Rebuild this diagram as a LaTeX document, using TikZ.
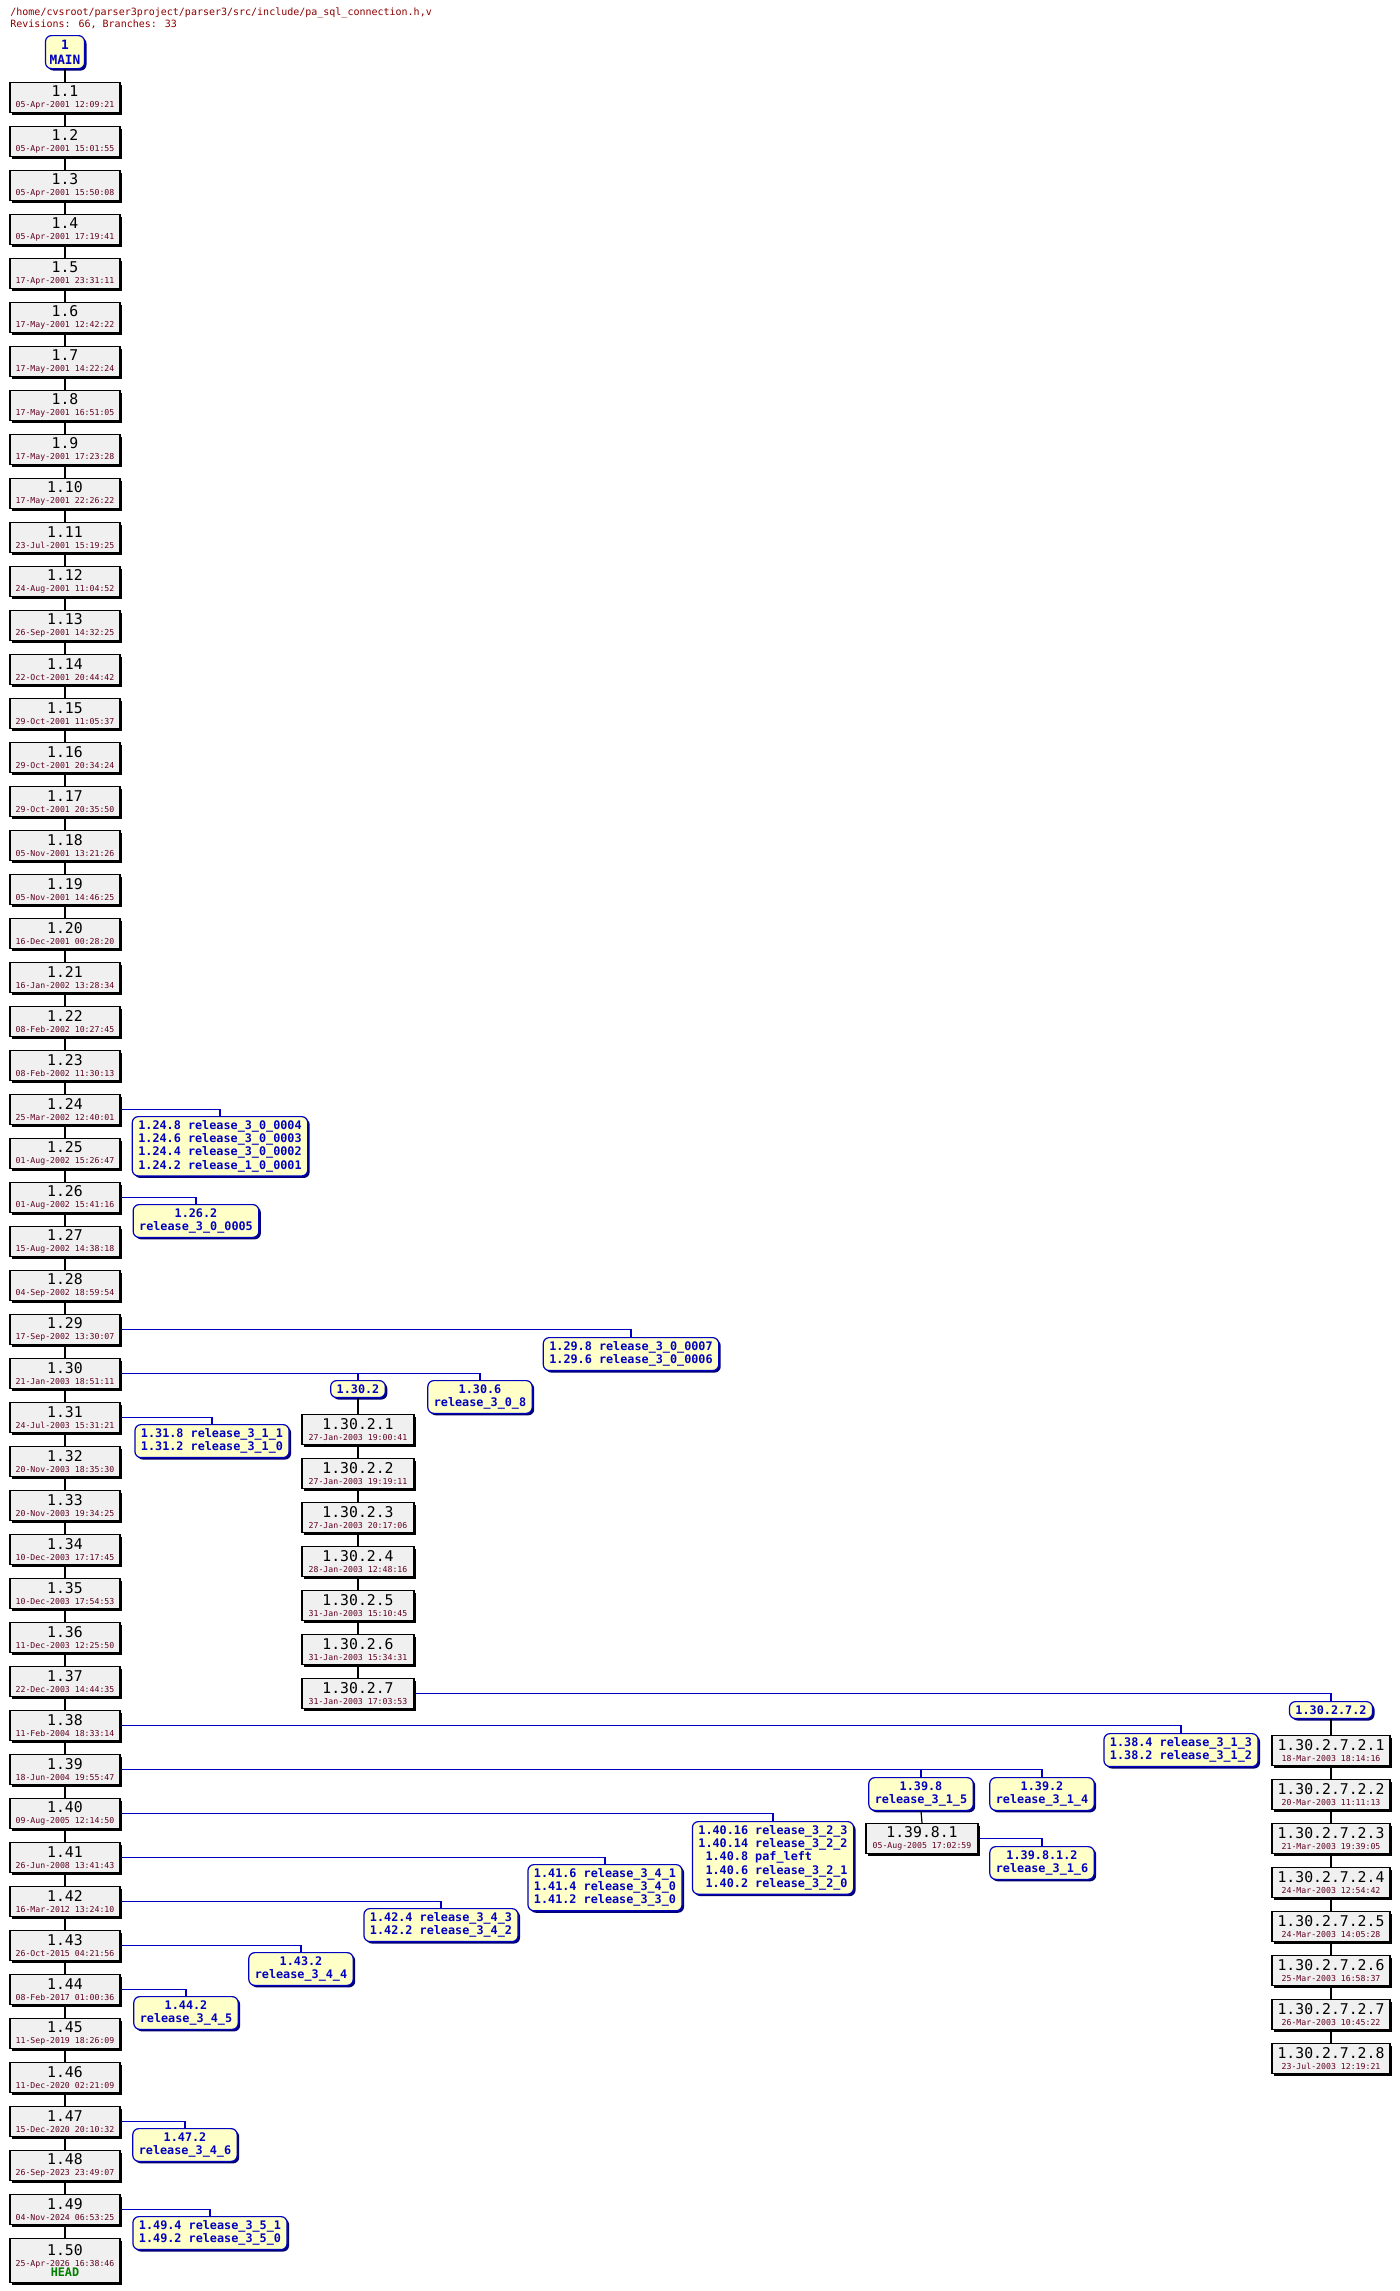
\documentclass[tikz,border=0pt]{standalone}
\usepackage{fontspec}
\usetikzlibrary{shadows}
\newfontfamily\monof{DejaVu Sans Mono}
\definecolor{hdr}{HTML}{8B0000}
\definecolor{dt}{HTML}{600020}
\definecolor{tagfill}{HTML}{FFFFC8}
\definecolor{tagtxt}{HTML}{0000C0}
\definecolor{boxfill}{HTML}{F0F0F0}
\definecolor{headg}{HTML}{008000}
\tikzset{
  revbox/.style={draw=black, line width=0.6pt, fill=boxfill, anchor=north, inner sep=0pt,
    minimum width=#1*0.5pt, minimum height=15pt, align=center, font=\monof\fontsize{4.1}{5.3}\selectfont,
    drop shadow={shadow xshift=1pt, shadow yshift=-1pt, opacity=1, fill=black}},
  revbox/.default=110,
  tagbox/.style={draw=tagtxt, line width=0.6pt, fill=tagfill, rounded corners=3pt, anchor=north,
    inner xsep=3pt, inner ysep=2pt, font=\monof\bfseries\fontsize{5.9}{6.6}\selectfont, text=tagtxt,
    drop shadow={shadow xshift=1pt, shadow yshift=-1pt, opacity=1, fill=tagtxt!60!black}},
  trunk/.style={draw=black, line width=0.6pt},
  br/.style={draw=tagtxt, line width=0.6pt}
}
\newcommand{\revtxt}[2]{{\fontsize{7.4}{5.3}\selectfont #1}\\{\color{dt}#2}}
\begin{document}
\begin{tikzpicture}[x=0.5pt,y=-0.5pt]
\useasboundingbox (0,0) rectangle (1399,2291);
\fill[white] (0,0) rectangle (1399,2291);
\node[anchor=north west, inner sep=0pt, font=\monof\fontsize{5}{6.3}\selectfont, text=hdr, align=left] (hdr) at (10,7) {/home/cvsroot/parser3project/parser3/src/include/pa\_sql\_connection.h,v\\Revisions: 66, Branches: 33};
\node[tagbox, minimum width=19.5pt, minimum height=16.5pt, align=center, inner sep=1pt, font=\monof\bfseries\fontsize{6.4}{7.4}\selectfont] (t1) at (65,35) {1\\MAIN};
\foreach \n/\d in {1/05-Apr-2001 12:09:21,2/05-Apr-2001 15:01:55,3/05-Apr-2001 15:50:08,4/05-Apr-2001 17:19:41,5/17-Apr-2001 23:31:11,6/17-May-2001 12:42:22,7/17-May-2001 14:22:24,8/17-May-2001 16:51:05,9/17-May-2001 17:23:28,10/17-May-2001 22:26:22,11/23-Jul-2001 15:19:25,12/24-Aug-2001 11:04:52,13/26-Sep-2001 14:32:25,14/22-Oct-2001 20:44:42,15/29-Oct-2001 11:05:37,16/29-Oct-2001 20:34:24,17/29-Oct-2001 20:35:50,18/05-Nov-2001 13:21:26,19/05-Nov-2001 14:46:25,20/16-Dec-2001 00:28:20,21/16-Jan-2002 13:28:34,22/08-Feb-2002 10:27:45,23/08-Feb-2002 11:30:13,24/25-Mar-2002 12:40:01,25/01-Aug-2002 15:26:47,26/01-Aug-2002 15:41:16,27/15-Aug-2002 14:38:18,28/04-Sep-2002 18:59:54,29/17-Sep-2002 13:30:07,30/21-Jan-2003 18:51:11,31/24-Jul-2003 15:31:21,32/20-Nov-2003 18:35:30,33/20-Nov-2003 19:34:25,34/10-Dec-2003 17:17:45,35/10-Dec-2003 17:54:53,36/11-Dec-2003 12:25:50,37/22-Dec-2003 14:44:35,38/11-Feb-2004 18:33:14,39/18-Jun-2004 19:55:47,40/09-Aug-2005 12:14:50,41/26-Jun-2008 13:41:43,42/16-Mar-2012 13:24:10,43/26-Oct-2015 04:21:56,44/08-Feb-2017 01:00:36,45/11-Sep-2019 18:26:09,46/11-Dec-2020 02:21:09,47/15-Dec-2020 20:10:32,48/26-Sep-2023 23:49:07,49/04-Nov-2024 06:53:25}{
  \node[revbox] (r\n) at (65,{82+(\n-1)*44}) {\revtxt{1.\n}{\d}};
}
\node[revbox, minimum height=22pt] (r50) at (65,2238) {\revtxt{1.50}{25-Apr-2026 16:38:46}\\{\fontsize{5.9}{5.3}\selectfont\bfseries\color{headg}HEAD}};
\draw[trunk] (t1.south) -- (r1.north);
\foreach \n in {2,...,50}{
  \pgfmathtruncatemacro{\p}{\n-1}
  \draw[trunk] (r\p.south) -- (r\n.north);
}
% branch 1.30.2
\foreach \n/\d in {1/27-Jan-2003 19:00:41,2/27-Jan-2003 19:19:11,3/27-Jan-2003 20:17:06,4/28-Jan-2003 12:48:16,5/31-Jan-2003 15:10:45,6/31-Jan-2003 15:34:31,7/31-Jan-2003 17:03:53}{
  \node[revbox=112] (b\n) at (358,{1414+(\n-1)*44}) {\revtxt{1.30.2.\n}{\d}};
}
\foreach \n/\d in {1/18-Mar-2003 18:14:16,2/20-Mar-2003 11:11:13,3/21-Mar-2003 19:39:05,4/24-Mar-2003 12:54:42,5/24-Mar-2003 14:05:28,6/25-Mar-2003 16:58:37,7/26-Mar-2003 10:45:22,8/23-Jul-2003 12:19:21}{
  \node[revbox=118] (c\n) at (1331,{1735+(\n-1)*44}) {\revtxt{1.30.2.7.2.\n}{\d}};
}
\foreach \n in {2,...,7}{\pgfmathtruncatemacro{\p}{\n-1}\draw[trunk] (b\p.south) -- (b\n.north);}
\foreach \n in {2,...,8}{\pgfmathtruncatemacro{\p}{\n-1}\draw[trunk] (c\p.south) -- (c\n.north);}
\node[revbox=112] (d1) at (922,1823) {\revtxt{1.39.8.1}{05-Aug-2005 17:02:59}};
% tags
\node[tagbox, align=left] (t24) at (220,1116) {1.24.8 release\_3\_0\_0004\\1.24.6 release\_3\_0\_0003\\1.24.4 release\_3\_0\_0002\\1.24.2 release\_1\_0\_0001};
\node[tagbox, align=center] (t26) at (196,1204) {1.26.2\\release\_3\_0\_0005};
\node[tagbox, align=left] (t29) at (631,1337) {1.29.8 release\_3\_0\_0007\\1.29.6 release\_3\_0\_0006};
\node[tagbox] (t302) at (358,1380) {1.30.2};
\node[tagbox, align=center] (t306) at (480,1380) {1.30.6\\release\_3\_0\_8};
\node[tagbox, align=left] (t31) at (212,1424) {1.31.8 release\_3\_1\_1\\1.31.2 release\_3\_1\_0};
\node[tagbox] (t30272) at (1331,1701) {1.30.2.7.2};
\node[tagbox, align=left] (t38) at (1181,1733) {1.38.4 release\_3\_1\_3\\1.38.2 release\_3\_1\_2};
\node[tagbox, align=center] (t398) at (921,1777) {1.39.8\\release\_3\_1\_5};
\node[tagbox, align=center] (t392) at (1042,1777) {1.39.2\\release\_3\_1\_4};
\node[tagbox, align=center] (t39812) at (1042,1846) {1.39.8.1.2\\release\_3\_1\_6};
\node[tagbox, align=left] (t40) at (773,1821) {1.40.16 release\_3\_2\_3\\1.40.14 release\_3\_2\_2\\\phantom{1}1.40.8 paf\_left\\\phantom{1}1.40.6 release\_3\_2\_1\\\phantom{1}1.40.2 release\_3\_2\_0};
\node[tagbox, align=left] (t41) at (605,1864) {1.41.6 release\_3\_4\_1\\1.41.4 release\_3\_4\_0\\1.41.2 release\_3\_3\_0};
\node[tagbox, align=left] (t42) at (441,1908) {1.42.4 release\_3\_4\_3\\1.42.2 release\_3\_4\_2};
\node[tagbox, align=center] (t43) at (301,1952) {1.43.2\\release\_3\_4\_4};
\node[tagbox, align=center] (t44) at (186,1996) {1.44.2\\release\_3\_4\_5};
\node[tagbox, align=center] (t47) at (185,2128) {1.47.2\\release\_3\_4\_6};
\node[tagbox, align=left] (t49) at (210,2216) {1.49.4 release\_3\_5\_1\\1.49.2 release\_3\_5\_0};
% branch connectors
\foreach \r/\t in {r24/t24,r26/t26,r29/t29,r30/t302,r30/t306,r31/t31,b7/t30272,r38/t38,r39/t398,r39/t392,d1/t39812,r40/t40,r41/t41,r42/t42,r43/t43,r44/t44,r47/t47,r49/t49}{
  \draw[br] (\r.east) -| (\t.north);
}
\draw[trunk] (t302.south) -- (b1.north);
\draw[trunk] (t30272.south) -- (c1.north);
\draw[trunk] (t398.south) -- (d1.north);
\end{tikzpicture}
\end{document}
